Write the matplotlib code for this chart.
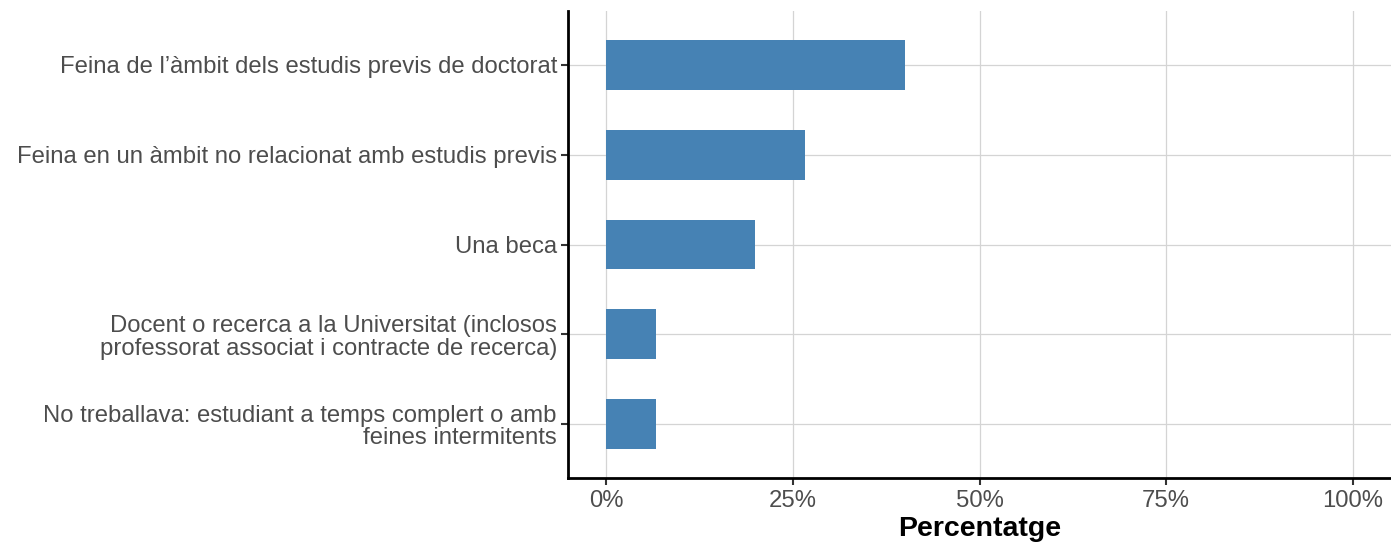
import matplotlib
matplotlib.use("Agg")
import matplotlib.pyplot as plt
from matplotlib.ticker import FuncFormatter

# =========================
# DATA
# =========================

categories = [
    "Feina de l\u2019àmbit dels estudis previs de doctorat",
    "Feina en un àmbit no relacionat amb estudis previs",
    "Una beca",
    "Docent o recerca a la Universitat (inclosos\nprofessorat associat i contracte de recerca)",
    "No treballava: estudiant a temps complert o amb\nfeines intermitents",
]

percentages = [40.0, 26.67, 20.0, 6.67, 6.67]

x_ticks = [0, 25, 50, 75, 100]

# =========================
# STYLE
# =========================

plt.rcParams["font.family"] = ["Liberation Sans", "DejaVu Sans"]

fig = plt.figure(figsize=(13.91, 5.45), dpi=100)
ax = fig.add_axes([568 / 1391, 1 - 478 / 545, (1391 - 568) / 1391, (478 - 11) / 545])

positions = list(range(len(categories)))

ax.barh(positions, percentages, height=0.556, color="#4682B4", zorder=3)

ax.set_xlim(-5.1, 105.1)
ax.set_ylim(len(categories) - 0.4, -0.6)

ax.set_yticks(positions)
ax.set_yticklabels(categories, ha="right", multialignment="right", linespacing=1.05)
ax.set_xticks(x_ticks)
ax.xaxis.set_major_formatter(FuncFormatter(lambda v, p: f"{v:.0f}%"))

ax.tick_params(axis="both", colors="#333333", labelcolor="#4d4d4d",
               labelsize=17.2, length=5, width=1.5)
ax.tick_params(axis="y", pad=3)
ax.tick_params(axis="x", pad=3.5)

ax.grid(True, color="#d4d4d4", linewidth=0.9, zorder=0)
ax.set_axisbelow(True)

for side in ["top", "right"]:
    ax.spines[side].set_visible(False)
for side in ["left", "bottom"]:
    ax.spines[side].set_linewidth(2.0)
    ax.spines[side].set_color("black")

ax.set_xlabel("Percentatge", fontsize=20.5, fontweight="bold", color="black", labelpad=3)

fig.savefig("out.png", dpi=100)
